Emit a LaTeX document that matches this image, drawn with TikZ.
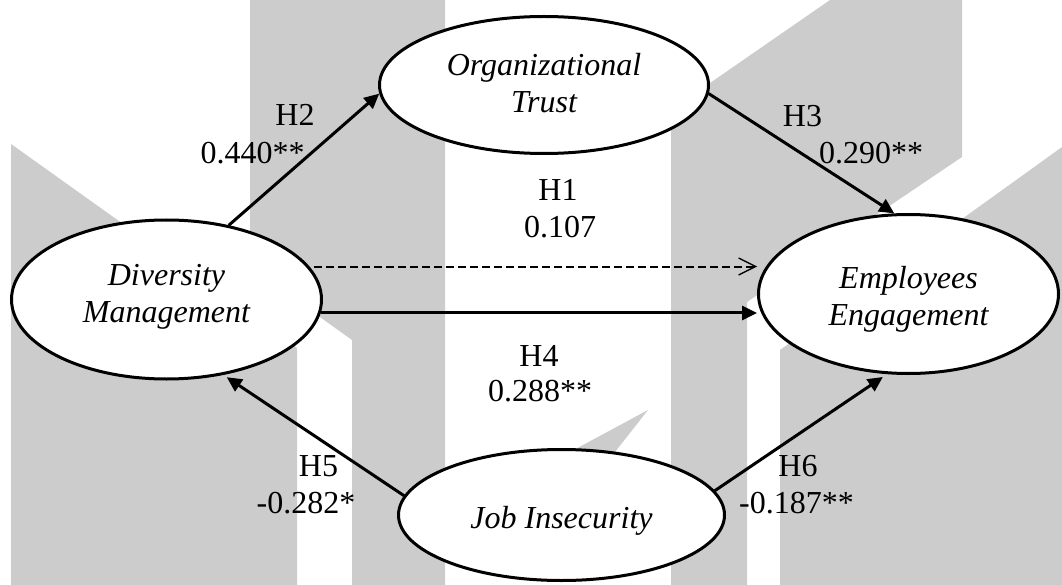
\documentclass[tikz,border=0pt]{standalone}
\usepackage{fontspec}
\setmainfont{Liberation Serif}
\usetikzlibrary{arrows.meta,shapes.geometric}
\definecolor{wm}{RGB}{204,204,204}
\begin{document}
\begin{tikzpicture}[x=1pt,y=-1pt,
  every node/.style={font=\fontsize{32}{37}\selectfont},
  var/.style={ellipse, draw, line width=3pt, fill=white, inner sep=0pt, align=center,
              font=\fontsize{32}{37}\selectfont\itshape},
  lbl/.style={anchor=base, inner sep=0pt},
  edge/.style={line width=3pt, -{Triangle[length=15pt,width=14pt]}},
  ]
\useasboundingbox (0,0) rectangle (1062,585);
% watermark
\fill[wm] (11,144) -- (297,348) -- (297,585) -- (11,585) -- cycle;
\fill[wm] (250,0) -- (445,0) -- (445,585) -- (352,585) -- (352,340) -- (250,267) -- cycle;
\fill[wm] (671,110) -- (830,0) -- (962,0) -- (962,157) -- (747,302) -- (747,585) -- (671,585) -- cycle;
\fill[wm] (780,350) -- (1062,147) -- (1062,585) -- (780,585) -- cycle;
\fill[wm] (648,410) -- (570,452) -- (615,452) -- cycle;
% variables
\node[var, minimum width=310pt, minimum height=159pt, text height=59pt, text depth=14pt] (div) at (166.5,299.5) {Diversity\\Management};
\node[var, minimum width=329pt, minimum height=137pt, text height=56pt, text depth=0pt] (org) at (544,85) {Organizational\\Trust};
\node[var, minimum width=300pt, minimum height=159pt, text height=62pt, text depth=0pt] (emp) at (908.5,294) {Employees\\Engagement};
\node[var, minimum width=326pt, minimum height=131pt, text height=26pt, text depth=0pt] (job) at (561.5,515) {Job Insecurity};
% paths
\draw[edge] (div.50) -- (org.183);
\draw[edge] (org.-3) -- (emp.100);
\draw[line width=2pt, dash pattern=on 8pt off 4pt, shorten <=5pt,
      -{Straight Barb[length=17pt,width=17pt,line width=1.3pt]}] (div.13) -- (div.13 -| emp.west);
\draw[edge] (div.-5) -- (div.-5 -| emp.west);
\draw[edge, shorten >=4pt] (job.173) -- (div.-53);
\draw[edge, shorten >=5pt] (job.9) -- (emp.-105);
% labels
\node[lbl] (h2a) at (295,126) {H2};
\node[lbl] (h2b) at (252.5,163.5) {0.440**};
\node[lbl] (h3a) at (802.5,127) {H3};
\node[lbl] (h3b) at (871,163.5) {0.290**};
\node[lbl] (h1a) at (558,201) {H1};
\node[lbl] (h1b) at (560,238) {0.107};
\node[lbl] (h4a) at (539,366.5) {H4};
\node[lbl] (h4b) at (540,401.5) {0.288**};
\node[lbl] (h5a) at (318.5,476.5) {H5};
\node[lbl] (h5b) at (306,513) {-0.282*};
\node[lbl] (h6a) at (798,476.5) {H6};
\node[lbl] (h6b) at (796.5,513) {-0.187**};
\end{tikzpicture}
\end{document}
